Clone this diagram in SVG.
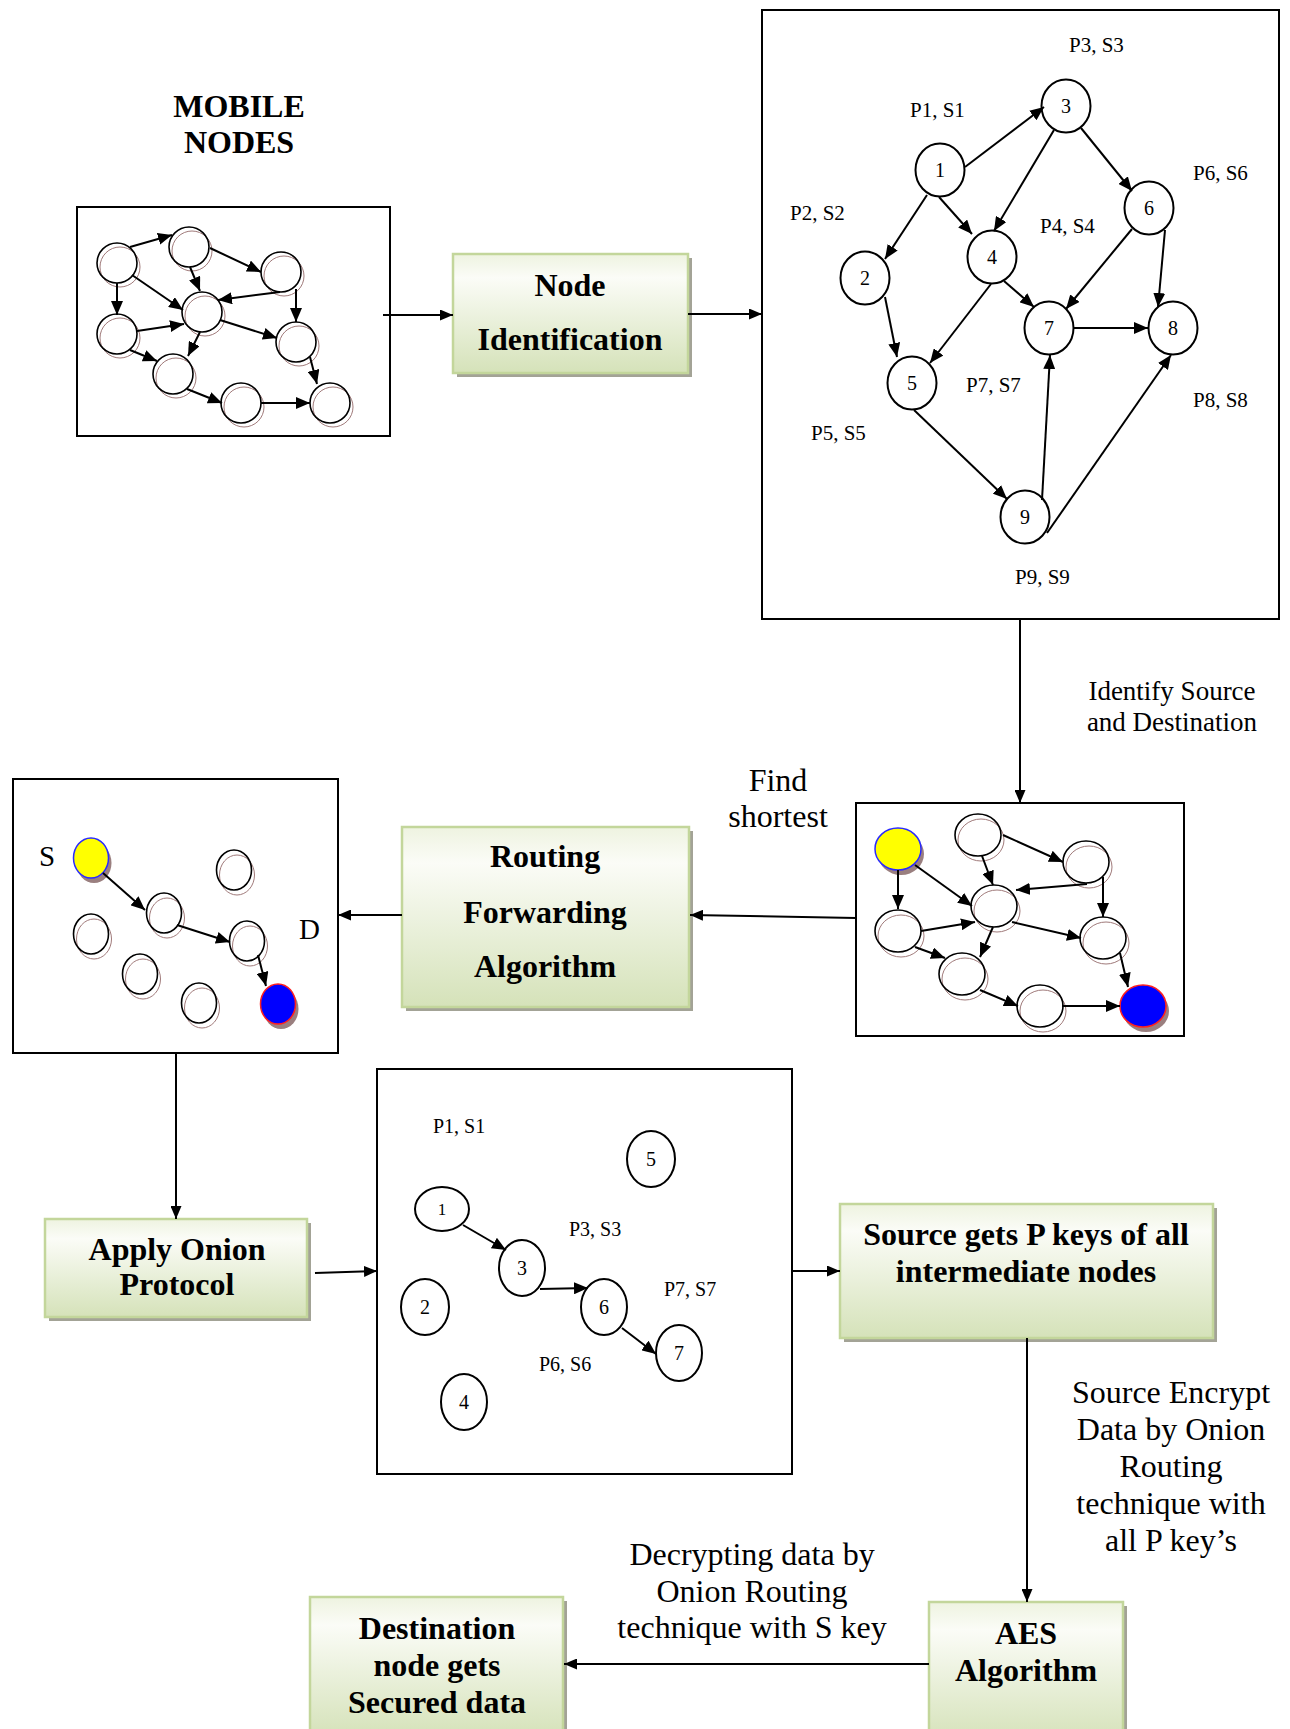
<svg xmlns="http://www.w3.org/2000/svg" width="1290" height="1729" viewBox="0 0 1290 1729">
<defs>
<linearGradient id="g" x1="0" y1="0" x2="0" y2="1">
<stop offset="0" stop-color="#eef3e0"/>
<stop offset="0.2" stop-color="#fbfcf7"/>
<stop offset="1" stop-color="#d5e2b9"/>
</linearGradient>
<marker id="ah" markerUnits="userSpaceOnUse" markerWidth="14" markerHeight="12" refX="14" refY="6" orient="auto"><path d="M0,0 L14,6 L0,12 z" fill="#000"/></marker>
<marker id="af" markerUnits="userSpaceOnUse" markerWidth="13" markerHeight="11" refX="13" refY="5.5" orient="auto"><path d="M0,0 L13,5.5 L0,11 z" fill="#000"/></marker>
</defs>
<style>
.frame{fill:#fff;stroke:#000;stroke-width:2}
.box{fill:url(#g);stroke:#c3d69b;stroke-width:2.5}
.shadow{fill:#a3a396}
.bt{font-family:"Liberation Serif","Times New Roman",serif;font-weight:bold;font-size:32px;text-anchor:middle;fill:#000}
.lt{font-family:"Liberation Serif","Times New Roman",serif;font-size:32px;text-anchor:middle;fill:#000}
.id{font-size:27px}
.sm{font-family:"Liberation Serif","Times New Roman",serif;font-size:21px;fill:#000}
.sm2{font-size:20px}
.num{font-family:"Liberation Serif","Times New Roman",serif;font-size:20px;text-anchor:middle;fill:#000}
.n1{font-size:17px}
.lg{font-family:"Liberation Serif","Times New Roman",serif;font-size:29px;fill:#000}
.nc{fill:#fff;stroke:#000;stroke-width:2}
.mc{fill:none;stroke:#000;stroke-width:1.6}
.ms{fill:none;stroke:#a07a7a;stroke-width:1}
.cs{fill:#9a7f7f}
.e{stroke:#000;stroke-width:2;fill:none;marker-end:url(#ah)}
.f{stroke:#000;stroke-width:2;fill:none;marker-end:url(#af)}
</style>

<text class="bt" x="239" y="117">MOBILE</text>
<text class="bt" x="239" y="153">NODES</text>

<g id="mobile-nodes">
<rect class="frame" x="77" y="207" width="313" height="229"/>
<g class="ms">
<circle cx="120" cy="267" r="20"/><circle cx="192" cy="251" r="20"/><circle cx="284" cy="276" r="20"/>
<circle cx="205" cy="316" r="20"/><circle cx="120" cy="338" r="20"/><circle cx="299" cy="346" r="20"/>
<circle cx="176" cy="378" r="20"/><circle cx="244" cy="407" r="20"/><circle cx="333" cy="407" r="20"/>
</g>
<g class="mc">
<circle cx="117" cy="263" r="20"/><circle cx="189" cy="247" r="20"/><circle cx="281" cy="272" r="20"/>
<circle cx="202" cy="312" r="20"/><circle cx="117" cy="334" r="20"/><circle cx="296" cy="342" r="20"/>
<circle cx="173" cy="374" r="20"/><circle cx="241" cy="403" r="20"/><circle cx="330" cy="403" r="20"/>
</g>
</g>

<g id="node-identification">
<rect class="shadow" x="457" y="258" width="235" height="119"/>
<rect class="box" x="453" y="254" width="235" height="119"/>
<text class="bt" x="570" y="296">Node</text>
<text class="bt" x="570" y="350">Identification</text>
</g>

<g id="graph">
<rect class="frame" x="762" y="10" width="517" height="609"/>
<g class="nc">
<ellipse cx="940" cy="170" rx="24.5" ry="26.5"/>
<ellipse cx="1066" cy="106" rx="24.5" ry="26.5"/>
<ellipse cx="1149" cy="208" rx="24.5" ry="26.5"/>
<ellipse cx="865" cy="278" rx="24.5" ry="26.5"/>
<ellipse cx="992" cy="257" rx="24.5" ry="26.5"/>
<ellipse cx="1049" cy="328" rx="24.5" ry="26.5"/>
<ellipse cx="1173" cy="328" rx="24.5" ry="26.5"/>
<ellipse cx="912" cy="383" rx="24.5" ry="26.5"/>
<ellipse cx="1025" cy="517" rx="24.5" ry="26.5"/>
</g>
<g class="num">
<text x="940" y="177">1</text><text x="1066" y="113">3</text><text x="1149" y="215">6</text>
<text x="865" y="285">2</text><text x="992" y="264">4</text><text x="1049" y="335">7</text>
<text x="1173" y="335">8</text><text x="912" y="390">5</text><text x="1025" y="524">9</text>
</g>
<g class="sm">
<text x="1069" y="52">P3, S3</text>
<text x="910" y="117">P1, S1</text>
<text x="790" y="220">P2, S2</text>
<text x="1193" y="180">P6, S6</text>
<text x="1040" y="233">P4, S4</text>
<text x="966" y="392">P7, S7</text>
<text x="1193" y="407">P8, S8</text>
<text x="811" y="440">P5, S5</text>
<text x="1015" y="584">P9, S9</text>
</g>
</g>

<g id="shortest-path-network">
<rect class="frame" x="856" y="803" width="328" height="233"/>
<g class="ms">
<ellipse cx="981" cy="840" rx="23" ry="21"/><ellipse cx="1089" cy="867" rx="23" ry="21"/>
<ellipse cx="997" cy="911" rx="23" ry="21"/><ellipse cx="901" cy="936" rx="23" ry="21"/>
<ellipse cx="1106" cy="943" rx="23" ry="21"/><ellipse cx="965" cy="979" rx="23" ry="21"/>
<ellipse cx="1043" cy="1011" rx="23" ry="21"/>
</g>
<ellipse class="cs" cx="901" cy="854" rx="23" ry="21"/>
<ellipse class="cs" cx="1146" cy="1011" rx="23" ry="21"/>
<ellipse cx="898" cy="849" rx="23" ry="21" fill="#ffff00" stroke="#2a2aff" stroke-width="1.5"/>
<ellipse cx="1143" cy="1006" rx="23" ry="21" fill="#0000ff" stroke="#ff2020" stroke-width="1.5"/>
<g class="mc">
<ellipse cx="978" cy="835" rx="23" ry="21"/><ellipse cx="1086" cy="862" rx="23" ry="21"/>
<ellipse cx="994" cy="906" rx="23" ry="21"/><ellipse cx="898" cy="931" rx="23" ry="21"/>
<ellipse cx="1103" cy="938" rx="23" ry="21"/><ellipse cx="962" cy="974" rx="23" ry="21"/>
<ellipse cx="1040" cy="1006" rx="23" ry="21"/>
</g>
</g>

<g id="routing-forwarding">
<rect class="shadow" x="406" y="831" width="287" height="180"/>
<rect class="box" x="402" y="827" width="287" height="180"/>
<text class="bt" x="545" y="867">Routing</text>
<text class="bt" x="545" y="923">Forwarding</text>
<text class="bt" x="545" y="977">Algorithm</text>
</g>

<g id="source-destination">
<rect class="frame" x="13" y="779" width="325" height="274"/>
<g class="ms">
<ellipse cx="237" cy="875" rx="17.5" ry="20"/><ellipse cx="167" cy="918" rx="17.5" ry="20"/>
<ellipse cx="250" cy="946" rx="17.5" ry="20"/><ellipse cx="94" cy="939" rx="17.5" ry="20"/>
<ellipse cx="143" cy="979" rx="17.5" ry="20"/><ellipse cx="202" cy="1008" rx="17.5" ry="20"/>
</g>
<ellipse class="cs" cx="94" cy="863" rx="17.5" ry="20"/>
<ellipse class="cs" cx="281" cy="1009" rx="17.5" ry="20"/>
<ellipse cx="91" cy="858" rx="17.5" ry="20" fill="#ffff00" stroke="#2a2aff" stroke-width="1.5"/>
<ellipse cx="278" cy="1004" rx="17.5" ry="20" fill="#0000ff" stroke="#ff2020" stroke-width="1.5"/>
<g class="mc">
<ellipse cx="234" cy="870" rx="17.5" ry="20"/><ellipse cx="164" cy="913" rx="17.5" ry="20"/>
<ellipse cx="247" cy="941" rx="17.5" ry="20"/><ellipse cx="91" cy="934" rx="17.5" ry="20"/>
<ellipse cx="140" cy="974" rx="17.5" ry="20"/><ellipse cx="199" cy="1003" rx="17.5" ry="20"/>
</g>
<text class="lg" x="39" y="866">S</text>
<text class="lg" x="299" y="939">D</text>
</g>

<g id="apply-onion">
<rect class="shadow" x="49" y="1223" width="262" height="98"/>
<rect class="box" x="45" y="1219" width="262" height="98"/>
<text class="bt" x="177" y="1260">Apply Onion</text>
<text class="bt" x="177" y="1295">Protocol</text>
</g>

<g id="onion-path">
<rect class="frame" x="377" y="1069" width="415" height="405"/>
<g class="nc">
<ellipse cx="442" cy="1209" rx="27" ry="22"/>
<ellipse cx="651" cy="1159" rx="24" ry="28"/>
<ellipse cx="522" cy="1268" rx="23" ry="28"/>
<ellipse cx="425" cy="1307" rx="24" ry="28"/>
<ellipse cx="604" cy="1307" rx="23" ry="28"/>
<ellipse cx="679" cy="1353" rx="23" ry="28"/>
<ellipse cx="464" cy="1402" rx="23" ry="28"/>
</g>
<g class="num">
<text class="n1" x="442" y="1215">1</text><text x="651" y="1166">5</text><text x="522" y="1275">3</text>
<text x="425" y="1314">2</text><text x="604" y="1314">6</text><text x="679" y="1360">7</text>
<text x="464" y="1409">4</text>
</g>
<g class="sm sm2">
<text x="433" y="1133">P1, S1</text>
<text x="569" y="1236">P3, S3</text>
<text x="664" y="1296">P7, S7</text>
<text x="539" y="1371">P6, S6</text>
</g>
</g>

<g id="source-gets-keys">
<rect class="shadow" x="844" y="1208" width="373" height="134"/>
<rect class="box" x="840" y="1204" width="373" height="134"/>
<text class="bt" x="1026" y="1245">Source gets P keys of all</text>
<text class="bt" x="1026" y="1282">intermediate nodes</text>
</g>

<g id="aes">
<rect class="shadow" x="933" y="1606" width="194" height="140"/>
<rect class="box" x="929" y="1602" width="194" height="140"/>
<text class="bt" x="1026" y="1644">AES</text>
<text class="bt" x="1026" y="1681">Algorithm</text>
</g>

<g id="destination">
<rect class="shadow" x="314" y="1601" width="253" height="140"/>
<rect class="box" x="310" y="1597" width="253" height="140"/>
<text class="bt" x="437" y="1639">Destination</text>
<text class="bt" x="437" y="1676">node gets</text>
<text class="bt" x="437" y="1713">Secured data</text>
</g>

<g id="connectors">
<path class="e" d="M130,247 L172,235"/>
<path class="e" d="M190,267 L200,291"/>
<path class="e" d="M210,248 L261,272"/>
<path class="e" d="M280,292 L218,300"/>
<path class="e" d="M132,275 L183,310"/>
<path class="e" d="M117,283 L117,315"/>
<path class="e" d="M296,289 L296,322"/>
<path class="e" d="M137,331 L184,324"/>
<path class="e" d="M200,332 L188,356"/>
<path class="e" d="M220,320 L277,338"/>
<path class="e" d="M130,350 L157,361"/>
<path class="e" d="M310,357 L317,384"/>
<path class="e" d="M187,389 L222,403"/>
<path class="e" d="M261,403 L310,403"/>
<path class="e" d="M965,167 L1044,107"/>
<path class="e" d="M927,195 L885,259"/>
<path class="e" d="M939,197 L972,234"/>
<path class="e" d="M1054,130 L994,231"/>
<path class="e" d="M1081,128 L1132,191"/>
<path class="e" d="M1132,229 L1066,309"/>
<path class="e" d="M1165,230 L1158,307"/>
<path class="e" d="M1004,281 L1034,307"/>
<path class="e" d="M991,284 L930,363"/>
<path class="e" d="M885,297 L897,357"/>
<path class="e" d="M1074,328 L1148,328"/>
<path class="e" d="M914,410 L1007,499"/>
<path class="e" d="M1042,500 L1050,355"/>
<path class="e" d="M1047,533 L1171,355"/>
<path class="e" d="M898,870 L898,909"/>
<path class="e" d="M915,865 L972,906"/>
<path class="e" d="M982,856 L993,885"/>
<path class="e" d="M1003,835 L1063,862"/>
<path class="e" d="M1087,884 L1016,890"/>
<path class="e" d="M1103,877 L1103,917"/>
<path class="e" d="M921,931 L975,922"/>
<path class="e" d="M993,927 L980,957"/>
<path class="e" d="M1012,922 L1081,938"/>
<path class="e" d="M915,947 L945,958"/>
<path class="e" d="M1120,953 L1128,987"/>
<path class="e" d="M980,990 L1018,1006"/>
<path class="e" d="M1062,1006 L1120,1006"/>
<path class="e" d="M103,873 L145,910"/>
<path class="e" d="M177,925 L230,942"/>
<path class="e" d="M258,955 L266,986"/>
<path class="e" d="M463,1225 L506,1250"/>
<path class="e" d="M540,1289 L588,1288"/>
<path class="e" d="M622,1328 L656,1354"/>
<path class="f" d="M383,315 L453,315"/>
<path class="f" d="M688,314 L762,314"/>
<path class="f" d="M1020,619 L1020,803"/>
<path class="f" d="M856,918 L690,915"/>
<path class="f" d="M402,915 L338,915"/>
<path class="f" d="M176,1053 L176,1219"/>
<path class="f" d="M315,1273 L377,1271"/>
<path class="f" d="M792,1271 L840,1271"/>
<path class="f" d="M1027,1338 L1027,1602"/>
<path class="f" d="M929,1664 L564,1664"/>
</g>

<g id="labels">
<text class="lt id" x="1172" y="700">Identify Source</text>
<text class="lt id" x="1172" y="731">and Destination</text>
<text class="lt" x="778" y="791">Find</text>
<text class="lt" x="778" y="827">shortest</text>
<text class="lt" x="1171" y="1403">Source Encrypt</text>
<text class="lt" x="1171" y="1440">Data by Onion</text>
<text class="lt" x="1171" y="1477">Routing</text>
<text class="lt" x="1171" y="1514">technique with</text>
<text class="lt" x="1171" y="1551">all P key’s</text>
<text class="lt" x="752" y="1565">Decrypting data by</text>
<text class="lt" x="752" y="1602">Onion Routing</text>
<text class="lt" x="752" y="1638">technique with S key</text>
</g>
</svg>
